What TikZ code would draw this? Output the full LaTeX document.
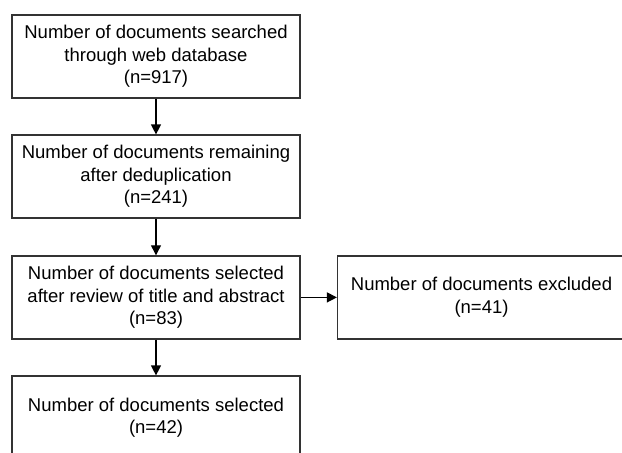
\documentclass[tikz,border=0pt]{standalone}
\usepackage{fontspec}
\setmainfont{Liberation Sans}
\usetikzlibrary{arrows.meta}
\begin{document}
\begin{tikzpicture}[x=1pt,y=-1pt,
  box/.style={draw=black!80,line width=1.2pt,minimum width=288pt,minimum height=83pt,
    align=center,inner sep=0pt,font=\fontsize{18.5}{22.5}\selectfont},
  arr/.style={line width=1.2pt,-{Triangle[width=10pt,length=10pt]}}]
\useasboundingbox (0,0) rectangle (622,453);
\node[box] (a) at (156,56.5) {Number of documents searched\\through web database\\(n=917)};
\node[box] (b) at (156,176.5) {Number of documents remaining\\after deduplication\\(n=241)};
\node[box] (c) at (156,297.4) {Number of documents selected\\after review of title and abstract\\(n=83)};
\node[box] (d) at (156,417.5) {Number of documents selected\\(n=42)};
\node[box] (e) at (481.5,297.4) {Number of documents excluded\\(n=41)};
\draw[arr] (a) -- (b);
\draw[arr] (b) -- (c);
\draw[arr] (c) -- (d);
\draw[arr] (c) -- (e);
\end{tikzpicture}
\end{document}
